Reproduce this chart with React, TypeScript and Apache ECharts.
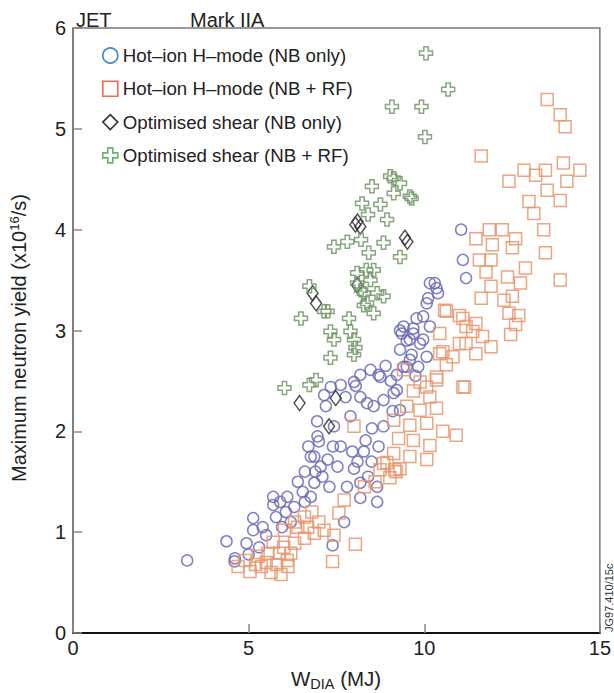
import React, { useEffect, useRef } from "react";
import * as echarts from "echarts";

const FONT = "Liberation Sans";

const xTicks = [0, 5, 10, 15];
const yTicks = [0, 1, 2, 3, 4, 5, 6];

const seriesNames = [
  "Hot–ion H–mode (NB only)",
  "Hot–ion H–mode (NB + RF)",
  "Optimised shear (NB only)",
  "Optimised shear (NB + RF)",
];

const hotIonNB: number[][] = [
  [3.25, 0.72], [4.37, 0.91], [4.61, 0.74], [4.6, 0.71], [4.94, 0.89], [5.13, 1.14], [5.13, 1.02], [5.5, 0.97],
  [5.7, 1.35], [5.7, 1.27], [5.78, 1.15], [6.06, 1.2], [6.54, 1.4], [6.77, 1.75], [7.05, 1.65], [6.87, 1.49],
  [6.77, 1.35], [7.39, 0.87], [7.72, 1.1], [8.18, 1.34], [8.66, 1.3], [8.18, 1.49], [8.66, 1.45],
  [6.96, 1.95], [6.87, 1.75], [7.43, 2.05], [7.62, 1.85], [7.95, 1.8], [8.28, 1.8], [7.25, 1.72], [7.53, 1.65],
  [8.0, 1.63], [8.33, 1.91], [8.51, 2.03], [8.7, 1.85], [8.84, 2.05],
  [7.15, 2.36], [7.34, 2.44], [7.62, 2.46], [7.76, 2.34], [8.0, 2.49], [8.18, 2.56], [8.18, 2.34], [8.37, 2.28],
  [8.47, 2.61], [8.56, 2.25], [8.7, 2.56], [8.84, 2.31], [9.13, 2.38], [9.22, 2.56], [9.31, 2.21], [8.75, 2.54],
  [9.22, 2.41],
  [9.31, 3.0], [9.69, 2.97], [9.97, 2.91], [9.31, 2.81], [9.64, 2.76], [10.07, 2.74], [9.5, 2.64], [9.83, 2.64],
  [9.41, 2.64], [9.59, 2.71], [9.36, 2.97], [9.59, 2.91], [9.88, 2.87], [9.78, 3.12], [9.69, 3.02], [10.16, 3.04],
  [10.07, 3.27], [10.16, 3.47], [10.35, 3.42], [10.3, 3.47], [10.39, 3.37], [10.11, 3.32], [9.97, 3.14], [9.41, 3.04],
  [11.05, 4.0], [11.1, 3.7], [11.19, 3.52],
  [6.3, 1.25], [6.6, 1.3], [5.95, 1.05], [6.2, 1.1], [5.4, 1.05], [5.0, 0.78], [5.3, 0.85], [7.1, 1.55],
  [7.8, 1.45], [8.4, 1.55], [6.95, 2.1], [7.2, 2.25], [7.9, 2.15], [8.05, 2.45], [8.9, 2.65], [9.05, 2.5],
  [9.5, 2.9], [9.75, 2.55], [9.1, 2.2],
  [6.1, 1.35], [6.4, 1.5], [6.6, 1.6], [7.3, 1.45], [7.4, 1.85], [7.0, 1.9], [6.7, 1.85], [8.1, 1.7],
  [8.5, 1.7], [5.9, 1.3], [6.9, 1.6],
];

const hotIonNBRF: number[][] = [
  [4.7, 0.66], [4.9, 0.72], [5.04, 0.61], [5.27, 0.76], [5.36, 0.66], [5.55, 0.79], [5.64, 0.6], [5.88, 0.79],
  [5.92, 0.58], [6.12, 0.66], [6.2, 0.79], [6.31, 0.89], [6.02, 1.02], [6.4, 1.05], [6.68, 1.05], [6.87, 0.99],
  [7.15, 1.02], [7.43, 0.97], [6.59, 0.94], [6.31, 1.1], [6.59, 1.15], [7.57, 1.19], [7.72, 1.32], [7.39, 0.71],
  [8.04, 0.88], [8.74, 1.62], [9.02, 1.54], [8.94, 1.69],
  [5.5, 0.7], [5.8, 0.68], [6.0, 0.85], [5.7, 0.9], [6.8, 1.2], [7.0, 1.1], [6.1, 0.72], [5.2, 0.68],
  [8.3, 1.45], [8.6, 1.5], [9.2, 1.6], [9.16, 1.62],
  [10.63, 3.19], [11.0, 3.15], [11.19, 3.04], [10.44, 2.97], [11.0, 2.87], [10.44, 2.77], [10.63, 2.66], [9.41, 2.61],
  [9.88, 2.49], [10.35, 2.51], [11.15, 2.44], [9.69, 2.4], [10.16, 2.34], [9.5, 2.25], [9.88, 2.21], [10.35, 2.23],
  [8.0, 2.05], [9.13, 2.11], [9.59, 2.06], [10.07, 2.08], [10.53, 2.0], [10.91, 1.96], [9.27, 1.93], [9.69, 1.91],
  [10.16, 1.86], [9.13, 1.78], [9.59, 1.75], [10.07, 1.72], [8.84, 1.68], [9.31, 1.63],
  [11.47, 3.91], [11.85, 4.0], [12.22, 4.0], [12.6, 3.91], [11.94, 3.85], [12.51, 3.82], [13.4, 4.0], [13.45, 3.77],
  [12.88, 3.62], [13.87, 3.5], [11.57, 3.7], [11.9, 3.7], [11.76, 3.58], [11.9, 3.44], [12.37, 3.53], [12.74, 3.47],
  [11.62, 3.32], [12.27, 3.3], [12.51, 3.34], [12.41, 3.17], [12.69, 3.15], [12.6, 3.06], [12.46, 2.96], [10.58, 3.2],
  [11.1, 3.12], [11.47, 3.07], [11.38, 2.99], [11.66, 2.94], [11.9, 2.84], [11.19, 2.87], [10.53, 2.79], [10.82, 2.74],
  [11.47, 2.77], [10.35, 2.54], [11.1, 2.44], [10.07, 2.44],
  [13.5, 5.29], [13.87, 5.14], [14.01, 5.02], [11.62, 4.73], [12.41, 4.48], [12.84, 4.59], [13.17, 4.54], [13.45, 4.59],
  [13.96, 4.66], [14.43, 4.59], [14.06, 4.48], [13.5, 4.39], [13.87, 4.29], [12.98, 4.28], [13.12, 4.16],
];

const optShearNB: number[][] = [
  [6.92, 3.27], [6.82, 3.37], [8.04, 4.05], [8.18, 4.03], [8.1, 4.08], [9.45, 3.92], [9.52, 3.88],
  [6.45, 2.28], [7.29, 2.05], [7.48, 2.33], [8.09, 3.45],
];

const optShearNBRF: number[][] = [
  [10.05, 5.75], [10.68, 5.39], [9.08, 5.22], [9.92, 5.22], [10.02, 4.92],
  [8.51, 4.43], [9.03, 4.53], [9.31, 4.46], [9.13, 4.51], [8.23, 4.26], [8.75, 4.25], [9.13, 4.36], [9.64, 4.31],
  [9.59, 4.33], [8.94, 4.1], [8.4, 4.15],
  [7.43, 3.83], [7.81, 3.88], [8.42, 3.77], [8.84, 3.87], [9.31, 3.73], [8.2, 3.9],
  [8.09, 3.57], [8.56, 3.6], [8.09, 3.47], [8.47, 3.5], [8.28, 3.37], [8.66, 3.37], [8.84, 3.34], [8.37, 3.27],
  [8.56, 3.17], [8.2, 3.4], [8.35, 3.6],
  [6.73, 3.44], [7.25, 3.19], [6.49, 3.12], [7.86, 3.12], [7.15, 3.19], [7.33, 2.99], [7.43, 2.91], [7.33, 2.73],
  [7.9, 2.99], [8.0, 2.91], [8.04, 2.83], [8.0, 2.76], [8.28, 3.25],
  [6.02, 2.43], [6.73, 2.46], [6.92, 2.51],
];

const PLUS = "path://M4,0H8V4H12V8H8V12H4V8H0V4H4Z";

function measure(text: string, size: number): number {
  const c = document.createElement("canvas").getContext("2d");
  if (!c) return text.length * size * 0.55;
  c.font = `${size}px "${FONT}"`;
  return c.measureText(text).width;
}

export default function App() {
  const ref = useRef<HTMLDivElement>(null);

  useEffect(() => {
    if (!ref.current) return;
    const chart = echarts.init(ref.current, undefined, { renderer: "svg" });

    const yMain = "Maximum neutron yield (x10";
    const ySup = "16";
    const yEnd = "/s)";
    const w1 = measure(yMain, 20);
    const w2 = measure(ySup, 13);

    const wW = measure("W", 20.5);
    const wD = measure("DIA", 14.5);

    const base = { fontFamily: FONT, fill: "#222" };

    chart.setOption({
      animation: false,
      backgroundColor: "#fff",
      grid: {
        left: 73,
        top: 28,
        right: 9,
        bottom: 60,
        show: true,
        borderColor: "#777",
        borderWidth: 1.5,
      },
      xAxis: {
        type: "value",
        min: xTicks[0],
        max: xTicks[xTicks.length - 1],
        interval: 5,
        splitLine: { show: false },
        axisLine: { lineStyle: { color: "#111", width: 2 } },
        axisTick: { inside: true, length: 9, lineStyle: { color: "#888", width: 1.5 } },
        axisLabel: { fontFamily: FONT, fontSize: 20, color: "#222", margin: 5 },
      },
      yAxis: {
        type: "value",
        min: yTicks[0],
        max: yTicks[yTicks.length - 1],
        interval: 1,
        splitLine: { show: false },
        axisLine: { lineStyle: { color: "#777", width: 1.5 } },
        axisTick: { inside: true, length: 9, lineStyle: { color: "#888", width: 1.5 } },
        axisLabel: { fontFamily: FONT, fontSize: 20, color: "#222", margin: 7 },
      },
      legend: {
        orient: "vertical",
        left: 97,
        top: 41,
        itemWidth: 15,
        itemHeight: 15,
        itemGap: 14.3,
        textStyle: { fontFamily: FONT, fontSize: 18.7, color: "#222" },
        data: [
          { name: seriesNames[0], icon: "circle", itemStyle: { color: "rgba(0,0,0,0)", borderColor: "#1c70c8", borderWidth: 1.6 } },
          { name: seriesNames[1], icon: "rect", itemStyle: { color: "rgba(0,0,0,0)", borderColor: "#e8503a", borderWidth: 1.6 } },
          { name: seriesNames[2], icon: "diamond", itemStyle: { color: "rgba(0,0,0,0)", borderColor: "#111", borderWidth: 1.6 } },
          { name: seriesNames[3], icon: PLUS, itemStyle: { color: "rgba(0,0,0,0)", borderColor: "#49a84a", borderWidth: 1.6 } },
        ],
      },
      series: [
        {
          name: seriesNames[0],
          type: "scatter",
          symbol: "circle",
          symbolSize: 11,
          data: hotIonNB,
          itemStyle: { color: "rgba(0,0,0,0)", borderColor: "#6a6ab8", borderWidth: 1.5, opacity: 0.85 },
        },
        {
          name: seriesNames[1],
          type: "scatter",
          symbol: "rect",
          symbolSize: 12,
          data: hotIonNBRF,
          itemStyle: { color: "rgba(0,0,0,0)", borderColor: "#e8956c", borderWidth: 1.5, opacity: 0.85 },
        },
        {
          name: seriesNames[2],
          type: "scatter",
          symbol: "diamond",
          symbolSize: [11, 15],
          data: optShearNB,
          itemStyle: { color: "rgba(0,0,0,0)", borderColor: "#333", borderWidth: 1.5, opacity: 0.85 },
        },
        {
          name: seriesNames[3],
          type: "scatter",
          symbol: PLUS,
          symbolSize: 13,
          data: optShearNBRF,
          itemStyle: { color: "rgba(0,0,0,0)", borderColor: "#729668", borderWidth: 1.5, opacity: 0.85 },
        },
      ],
      graphic: [
        { type: "text", x: 76, y: 19.5, style: { ...base, text: "JET", fontSize: 20, textVerticalAlign: "middle" } },
        { type: "text", x: 190, y: 19.5, style: { ...base, text: "Mark IIA", fontSize: 20, textVerticalAlign: "middle" } },
        { type: "text", x: 291, y: 678, style: { ...base, text: "W", fontSize: 20.5, textVerticalAlign: "middle" } },
        { type: "text", x: 291 + wW, y: 684, style: { ...base, text: "DIA", fontSize: 14.5, textVerticalAlign: "middle" } },
        { type: "text", x: 291 + wW + wD, y: 678, style: { ...base, text: " (MJ)", fontSize: 20.5, textVerticalAlign: "middle" } },
        {
          type: "group",
          x: 19,
          y: 482,
          rotation: Math.PI / 2,
          children: [
            { type: "text", x: 0, y: 0, style: { ...base, text: yMain, fontSize: 20, textVerticalAlign: "middle" } },
            { type: "text", x: w1, y: -5, style: { ...base, text: ySup, fontSize: 13, textVerticalAlign: "middle" } },
            { type: "text", x: w1 + w2, y: 0, style: { ...base, text: yEnd, fontSize: 20, textVerticalAlign: "middle" } },
          ],
        },
        {
          type: "group",
          x: 609,
          y: 632,
          rotation: Math.PI / 2,
          children: [
            { type: "text", x: 0, y: 0, style: { ...base, fill: "#333", text: "JG97.410/15c", fontSize: 11, textVerticalAlign: "middle" } },
          ],
        },
      ],
    });

    return () => chart.dispose();
  }, []);

  return (
    <div
      ref={ref}
      style={{ position: "absolute", left: 0, top: 0, width: 614, height: 693 }}
    />
  );
}
